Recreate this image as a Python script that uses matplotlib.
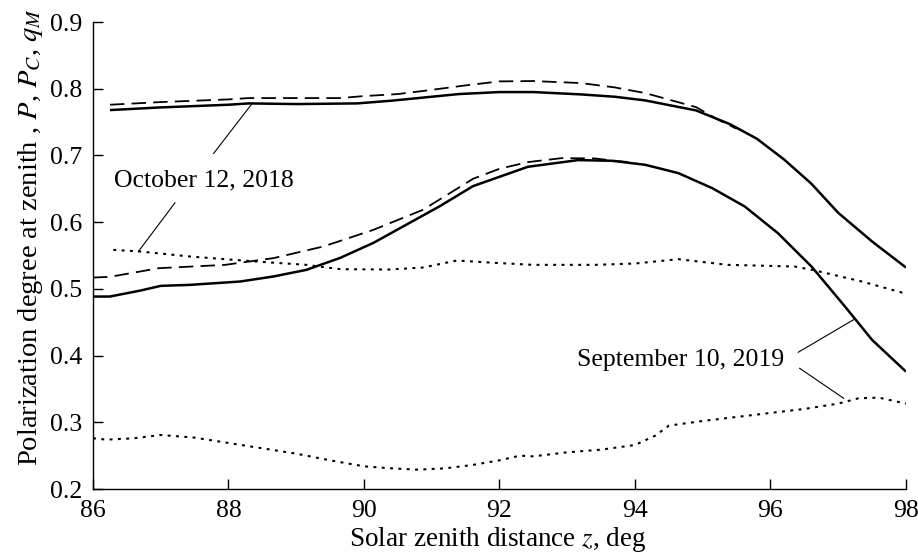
import matplotlib
matplotlib.use("Agg")
import matplotlib.pyplot as plt

# Data
z_oct_solid = [86.25, 87.0, 88.0, 88.3, 89.0, 89.9, 90.4, 90.9, 91.4, 92.0, 92.5, 93.2, 93.7, 94.15, 94.9, 95.4, 95.8, 96.2, 96.6, 97.0, 97.5, 98.0]
p_oct_solid = [0.768, 0.772, 0.776, 0.778, 0.777, 0.778, 0.782, 0.787, 0.792, 0.795, 0.795, 0.7915, 0.788, 0.7825, 0.7675, 0.747, 0.725, 0.694, 0.658, 0.614, 0.571, 0.532]
z_oct_dash = [86.25, 87.0, 88.0, 88.3, 89.0, 89.65, 90.0, 90.5, 90.9, 91.5, 92.0, 92.5, 93.2, 93.7, 94.15, 94.9, 95.2, 95.5]
p_oct_dash = [0.776, 0.780, 0.784, 0.786, 0.786, 0.786, 0.789, 0.792, 0.797, 0.805, 0.811, 0.8115, 0.8085, 0.802, 0.7935, 0.7725, 0.755, 0.740]

z_sep_solid = [86.0, 86.25, 86.7, 87.0, 87.43, 88.17, 88.66, 89.15, 89.65, 90.14, 90.63, 91.12, 91.61, 92.0, 92.42, 93.16, 93.66, 94.15, 94.64, 95.14, 95.62, 96.11, 96.61, 97.1, 97.5, 98.0]
p_sep_solid = [0.4885, 0.4885, 0.4975, 0.5045, 0.506, 0.511, 0.5185, 0.5285, 0.5465, 0.569, 0.5965, 0.624, 0.654, 0.668, 0.683, 0.693, 0.692, 0.686, 0.6735, 0.651, 0.6235, 0.5835, 0.533, 0.4735, 0.4235, 0.376]
z_sep_dash = [86.0, 86.25, 86.97, 87.95, 88.66, 89.4, 90.14, 90.87, 91.61, 92.0, 92.42, 92.92, 93.41, 93.7, 94.0]
p_sep_dash = [0.517, 0.518, 0.531, 0.536, 0.546, 0.5635, 0.5885, 0.6185, 0.665, 0.680, 0.690, 0.696, 0.6955, 0.692, 0.689]

z_oct_q = [86.3, 86.7, 87.43, 88.41, 89.15, 89.65, 90.38, 90.87, 91.37, 91.93, 92.5, 93.41, 94.0, 94.64, 95.37, 96.36, 96.66, 97.35, 97.94, 98.0]
q_oct = [0.5585, 0.556, 0.5485, 0.541, 0.536, 0.5295, 0.529, 0.532, 0.5425, 0.539, 0.536, 0.536, 0.538, 0.5445, 0.536, 0.5335, 0.5275, 0.511, 0.4945, 0.494]
z_sep_q = [86.0, 86.2, 86.6, 87.0, 87.5, 88.0, 88.5, 89.0, 89.5, 90.0, 90.4, 90.8, 91.2, 91.6, 92.0, 92.3, 92.5, 93.0, 93.5, 94.0, 94.3, 94.5, 95.0, 95.5, 96.0, 96.5, 97.0, 97.3, 97.6, 98.0]
q_sep = [0.276, 0.274, 0.276, 0.281, 0.277, 0.269, 0.261, 0.253, 0.243, 0.234, 0.231, 0.229, 0.231, 0.236, 0.243, 0.250, 0.249, 0.255, 0.259, 0.266, 0.280, 0.295, 0.302, 0.308, 0.314, 0.320, 0.328, 0.336, 0.337, 0.328]

x_ticks = [86, 88, 90, 92, 94, 96, 98]
y_ticks = [0.2, 0.3, 0.4, 0.5, 0.6, 0.7, 0.8, 0.9]

plt.rcParams['font.family'] = ['Liberation Serif', 'DejaVu Serif']
plt.rcParams['mathtext.fontset'] = 'stix'

fig = plt.figure(figsize=(9.18, 5.53), dpi=100)
ax = fig.add_axes([0.1013, 0.1157, 0.8856, 0.8445])

k = 'black'
ax.plot(z_oct_solid, p_oct_solid, color=k, lw=1.8, solid_capstyle='butt')
ax.plot(z_oct_dash, p_oct_dash, color=k, lw=1.3, dashes=(8, 4))
ax.plot(z_sep_solid, p_sep_solid, color=k, lw=1.8, solid_capstyle='butt')
ax.plot(z_sep_dash, p_sep_dash, color=k, lw=1.3, dashes=(8, 4))
ax.plot(z_oct_q, q_oct, color=k, lw=1.5, dashes=(1.4, 2.6))
ax.plot(z_sep_q, q_sep, color=k, lw=1.5, dashes=(1.4, 2.6))

# annotations
ax.text(87.64, 0.663, 'October 12, 2018', fontsize=18.5, ha='center', va='center')
ax.plot([87.78, 88.35], [0.703, 0.778], color=k, lw=0.8)
ax.plot([87.21, 86.67], [0.629, 0.556], color=k, lw=0.8)
ax.text(94.68, 0.393, 'September 10, 2019', fontsize=18.5, ha='center', va='center')
ax.plot([96.41, 97.23], [0.405, 0.454], color=k, lw=0.8)
ax.plot([96.43, 97.08], [0.381, 0.336], color=k, lw=0.8)

ax.set_xlim(86, 98)
ax.set_ylim(0.2, 0.9)
ax.set_xticks(x_ticks)
ax.set_xticklabels([str(t) for t in x_ticks])
ax.set_yticks(y_ticks)
ax.set_yticklabels([f'{t:.1f}' for t in y_ticks])
ax.tick_params(direction='in', length=7, width=1, labelsize=18.5)
ax.tick_params(axis='x', pad=8)
ax.tick_params(axis='y', pad=8)
for s in ['top', 'right']:
    ax.spines[s].set_visible(False)
for s in ['left', 'bottom']:
    ax.spines[s].set_linewidth(1.0)

fig.text(498 / 918, 1 - 539 / 553, 'Solar zenith distance $z$, deg', fontsize=19.5,
         ha='center', va='center')
fig.text(31 / 918, 1 - 237 / 553, 'Polarization degree at zenith , $P$, $P_C$, $q_M$',
         fontsize=20.5, ha='center', va='center', rotation=90)

fig.savefig('out.png', dpi=100)
